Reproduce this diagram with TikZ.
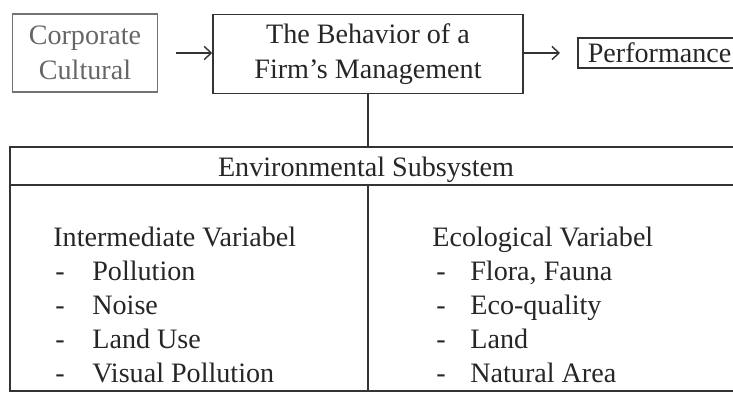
\documentclass[tikz,border=0pt]{standalone}
\usepackage{fontspec}
\setmainfont{Liberation Serif}
\usetikzlibrary{arrows.meta}

\begin{document}
\begin{tikzpicture}[x=0.02cm,y=-0.02cm,
	every node/.style={font=\fontsize{16}{20}\selectfont,text=black!85},
	box/.style={draw=black!80,line width=0.9pt,align=center,inner sep=0pt},
	frame/.style={draw=black!80,line width=0.9pt},
	link/.style={draw=black!80,line width=0.8pt,-{Straight Barb[length=4pt,width=7.5pt]}},
	txt/.style={anchor=base west,inner sep=0pt}]
	\clip (0,0) rectangle (733,394);%page
	% top row
	\node[box,draw=black!55,text=black!60,minimum width=2.9cm,minimum height=1.56cm] (corp) at (85,53) {Corporate\\Cultural};
	\node[box,minimum width=6.2cm,minimum height=1.58cm] (behav) at (368,54) {The Behavior of a\\Firm's Management};
	\node[box,anchor=west,inner xsep=0.2cm,minimum height=0.6cm] (perf) at (577,53) {Performance};
	\draw[link,shorten <=0.36cm] (corp.east) -- (corp.east -| behav.west);
	\draw[link,shorten >=0.34cm] (behav.east |- perf.west) -- (perf.west);
	% subsystem table
	\coordinate (envnw) at (10,147);
	\coordinate (envse) at (780,391);
	\coordinate (envtop) at (368,147);
	\coordinate (midtop) at (368,185);
	\coordinate (midbot) at (368,391);
	\draw[frame] (envnw) rectangle (envse);
	\draw[frame] (behav.south) -- (envtop);
	\draw[frame] (10,185) -- (780,185);%header line
	\draw[frame] (midtop) -- (midbot);%column line
	\node[anchor=base,inner sep=0pt] (envtitle) at (366,177) {Environmental Subsystem};
	\node[txt] (inter) at (53,247) {Intermediate Variabel};
	\foreach \lbl [count=\i] in {Pollution,Noise,Land Use,Visual Pollution}{
		\node[txt] (idash\i) at (55,247+34*\i) {-};
		\node[txt] (ivar\i) at (92,247+34*\i) {\lbl};
	}
	\node[txt] (eco) at (432,247) {Ecological Variabel};
	\foreach \lbl [count=\i] in {{Flora, Fauna},Eco-quality,Land,Natural Area}{
		\node[txt] (edash\i) at (436,247+34*\i) {-};
		\node[txt] (evar\i) at (470,247+34*\i) {\lbl};
	}
\end{tikzpicture}
\end{document}
